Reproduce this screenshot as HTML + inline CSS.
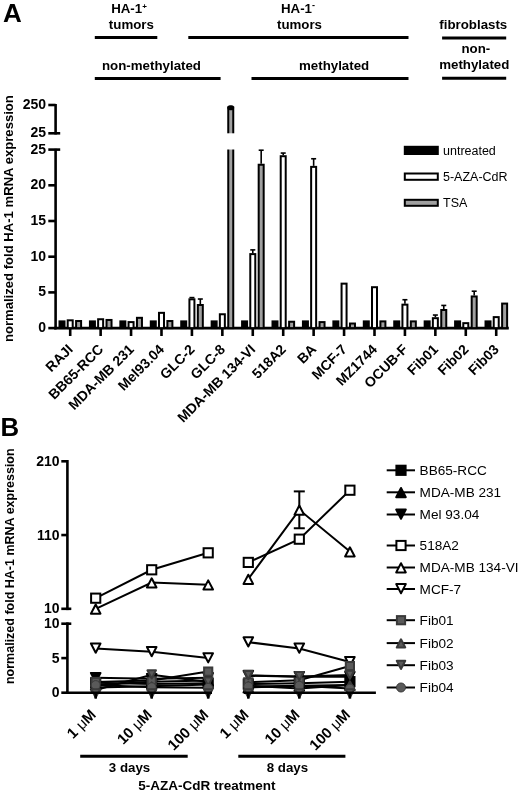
<!DOCTYPE html>
<html><head><meta charset="utf-8"><style>
html,body{margin:0;padding:0;background:#fff;}
svg{display:block;filter:grayscale(100%);}
text{font-family:"Liberation Sans",sans-serif;fill:#000;}
</style></head><body>
<svg width="520" height="793" viewBox="0 0 520 793" font-family="Liberation Sans, sans-serif">
<rect width="520" height="793" fill="#fff"/>
<text x="2.90" y="22.00" font-size="26" font-weight="bold" text-anchor="start" >A</text>
<text x="129.00" y="12.90" font-size="13.3" font-weight="bold" text-anchor="middle" >HA-1<tspan font-size="8" dy="-4.2">+</tspan></text>
<text x="131.40" y="29.00" font-size="13.3" font-weight="bold" text-anchor="middle" >tumors</text>
<text x="298.00" y="12.90" font-size="13.3" font-weight="bold" text-anchor="middle" >HA-1<tspan font-size="9" dy="-5">-</tspan></text>
<text x="299.50" y="29.00" font-size="13.3" font-weight="bold" text-anchor="middle" >tumors</text>
<text x="473.30" y="28.50" font-size="13.3" font-weight="bold" text-anchor="middle" >fibroblasts</text>
<text x="151.50" y="69.70" font-size="13.3" font-weight="bold" text-anchor="middle" >non-methylated</text>
<text x="334.10" y="69.70" font-size="13.3" font-weight="bold" text-anchor="middle" >methylated</text>
<text x="475.80" y="52.90" font-size="13.3" font-weight="bold" text-anchor="middle" >non-</text>
<text x="474.30" y="68.80" font-size="13.3" font-weight="bold" text-anchor="middle" >methylated</text>
<line x1="94.80" y1="37.50" x2="157.30" y2="37.50" stroke="#000" stroke-width="3"/>
<line x1="188.30" y1="37.50" x2="408.50" y2="37.50" stroke="#000" stroke-width="3"/>
<line x1="442.10" y1="38.00" x2="506.20" y2="38.00" stroke="#000" stroke-width="3"/>
<line x1="94.80" y1="78.60" x2="220.60" y2="78.60" stroke="#000" stroke-width="3"/>
<line x1="251.50" y1="78.60" x2="408.50" y2="78.60" stroke="#000" stroke-width="3"/>
<line x1="442.10" y1="78.20" x2="506.20" y2="78.20" stroke="#000" stroke-width="3"/>
<line x1="55.60" y1="104.00" x2="55.60" y2="134.50" stroke="#000" stroke-width="2.6"/>
<line x1="55.60" y1="148.80" x2="55.60" y2="329.40" stroke="#000" stroke-width="2.6"/>
<line x1="48.30" y1="105.00" x2="55.60" y2="105.00" stroke="#000" stroke-width="2.6"/>
<line x1="48.30" y1="133.30" x2="60.20" y2="133.30" stroke="#000" stroke-width="2.6"/>
<line x1="48.30" y1="149.60" x2="60.20" y2="149.60" stroke="#000" stroke-width="2.6"/>
<line x1="48.30" y1="185.30" x2="55.60" y2="185.30" stroke="#000" stroke-width="2.6"/>
<line x1="48.30" y1="221.00" x2="55.60" y2="221.00" stroke="#000" stroke-width="2.6"/>
<line x1="48.30" y1="256.70" x2="55.60" y2="256.70" stroke="#000" stroke-width="2.6"/>
<line x1="48.30" y1="292.40" x2="55.60" y2="292.40" stroke="#000" stroke-width="2.6"/>
<line x1="48.30" y1="328.10" x2="55.60" y2="328.10" stroke="#000" stroke-width="2.6"/>
<text x="46.00" y="108.90" font-size="14" font-weight="bold" text-anchor="end" >250</text>
<text x="46.00" y="137.20" font-size="14" font-weight="bold" text-anchor="end" >25</text>
<text x="46.00" y="153.50" font-size="14" font-weight="bold" text-anchor="end" >25</text>
<text x="46.00" y="189.20" font-size="14" font-weight="bold" text-anchor="end" >20</text>
<text x="46.00" y="224.90" font-size="14" font-weight="bold" text-anchor="end" >15</text>
<text x="46.00" y="260.60" font-size="14" font-weight="bold" text-anchor="end" >10</text>
<text x="46.00" y="296.30" font-size="14" font-weight="bold" text-anchor="end" >5</text>
<text x="46.00" y="332.00" font-size="14" font-weight="bold" text-anchor="end" >0</text>
<line x1="54.30" y1="328.10" x2="508.80" y2="328.10" stroke="#000" stroke-width="2.8"/>
<line x1="70.20" y1="328.10" x2="70.20" y2="336.00" stroke="#000" stroke-width="2.6"/>
<line x1="100.63" y1="328.10" x2="100.63" y2="336.00" stroke="#000" stroke-width="2.6"/>
<line x1="131.06" y1="328.10" x2="131.06" y2="336.00" stroke="#000" stroke-width="2.6"/>
<line x1="161.49" y1="328.10" x2="161.49" y2="336.00" stroke="#000" stroke-width="2.6"/>
<line x1="191.92" y1="328.10" x2="191.92" y2="336.00" stroke="#000" stroke-width="2.6"/>
<line x1="222.35" y1="328.10" x2="222.35" y2="336.00" stroke="#000" stroke-width="2.6"/>
<line x1="252.78" y1="328.10" x2="252.78" y2="336.00" stroke="#000" stroke-width="2.6"/>
<line x1="283.21" y1="328.10" x2="283.21" y2="336.00" stroke="#000" stroke-width="2.6"/>
<line x1="313.64" y1="328.10" x2="313.64" y2="336.00" stroke="#000" stroke-width="2.6"/>
<line x1="344.07" y1="328.10" x2="344.07" y2="336.00" stroke="#000" stroke-width="2.6"/>
<line x1="374.50" y1="328.10" x2="374.50" y2="336.00" stroke="#000" stroke-width="2.6"/>
<line x1="404.93" y1="328.10" x2="404.93" y2="336.00" stroke="#000" stroke-width="2.6"/>
<line x1="435.36" y1="328.10" x2="435.36" y2="336.00" stroke="#000" stroke-width="2.6"/>
<line x1="465.79" y1="328.10" x2="465.79" y2="336.00" stroke="#000" stroke-width="2.6"/>
<line x1="496.22" y1="328.10" x2="496.22" y2="336.00" stroke="#000" stroke-width="2.6"/>
<text transform="translate(73.80,350.2) rotate(-45)" font-size="14" font-weight="bold" text-anchor="end">RAJI</text>
<text transform="translate(104.23,350.2) rotate(-45)" font-size="14" font-weight="bold" text-anchor="end">BB65-RCC</text>
<text transform="translate(134.66,350.2) rotate(-45)" font-size="14" font-weight="bold" text-anchor="end">MDA-MB 231</text>
<text transform="translate(165.09,350.2) rotate(-45)" font-size="14" font-weight="bold" text-anchor="end">Mel93.04</text>
<text transform="translate(195.52,350.2) rotate(-45)" font-size="14" font-weight="bold" text-anchor="end">GLC-2</text>
<text transform="translate(225.95,350.2) rotate(-45)" font-size="14" font-weight="bold" text-anchor="end">GLC-8</text>
<text transform="translate(256.38,350.2) rotate(-45)" font-size="14" font-weight="bold" text-anchor="end">MDA-MB 134-VI</text>
<text transform="translate(286.81,350.2) rotate(-45)" font-size="14" font-weight="bold" text-anchor="end">518A2</text>
<text transform="translate(317.24,350.2) rotate(-45)" font-size="14" font-weight="bold" text-anchor="end">BA</text>
<text transform="translate(347.67,350.2) rotate(-45)" font-size="14" font-weight="bold" text-anchor="end">MCF-7</text>
<text transform="translate(378.10,350.2) rotate(-45)" font-size="14" font-weight="bold" text-anchor="end">MZ1744</text>
<text transform="translate(408.53,350.2) rotate(-45)" font-size="14" font-weight="bold" text-anchor="end">OCUB-F</text>
<text transform="translate(438.96,350.2) rotate(-45)" font-size="14" font-weight="bold" text-anchor="end">Fib01</text>
<text transform="translate(469.39,350.2) rotate(-45)" font-size="14" font-weight="bold" text-anchor="end">Fib02</text>
<text transform="translate(499.82,350.2) rotate(-45)" font-size="14" font-weight="bold" text-anchor="end">Fib03</text>
<rect x="59.50" y="321.38" width="5.00" height="6.72" fill="#000" stroke="#000" stroke-width="2.0"/>
<rect x="67.70" y="320.31" width="5.00" height="7.79" fill="#fff" stroke="#000" stroke-width="2.0"/>
<rect x="76.10" y="321.02" width="5.00" height="7.08" fill="#a0a0a0" stroke="#000" stroke-width="2.0"/>
<rect x="89.93" y="321.38" width="5.00" height="6.72" fill="#000" stroke="#000" stroke-width="2.0"/>
<rect x="98.13" y="319.24" width="5.00" height="8.86" fill="#fff" stroke="#000" stroke-width="2.0"/>
<rect x="106.53" y="319.96" width="5.00" height="8.14" fill="#a0a0a0" stroke="#000" stroke-width="2.0"/>
<rect x="120.36" y="321.38" width="5.00" height="6.72" fill="#000" stroke="#000" stroke-width="2.0"/>
<rect x="128.56" y="322.09" width="5.00" height="6.01" fill="#fff" stroke="#000" stroke-width="2.0"/>
<rect x="136.96" y="317.82" width="5.00" height="10.28" fill="#a0a0a0" stroke="#000" stroke-width="2.0"/>
<rect x="150.79" y="321.38" width="5.00" height="6.72" fill="#000" stroke="#000" stroke-width="2.0"/>
<rect x="158.99" y="312.84" width="5.00" height="15.26" fill="#fff" stroke="#000" stroke-width="2.0"/>
<rect x="167.39" y="321.02" width="5.00" height="7.08" fill="#a0a0a0" stroke="#000" stroke-width="2.0"/>
<rect x="181.22" y="321.38" width="5.00" height="6.72" fill="#000" stroke="#000" stroke-width="2.0"/>
<line x1="191.92" y1="297.60" x2="191.92" y2="298.31" stroke="#000" stroke-width="1.6"/>
<line x1="189.42" y1="297.60" x2="194.42" y2="297.60" stroke="#000" stroke-width="1.6"/>
<rect x="189.42" y="299.31" width="5.00" height="28.79" fill="#fff" stroke="#000" stroke-width="2.0"/>
<line x1="200.32" y1="299.02" x2="200.32" y2="304.00" stroke="#000" stroke-width="1.6"/>
<line x1="197.82" y1="299.02" x2="202.82" y2="299.02" stroke="#000" stroke-width="1.6"/>
<rect x="197.82" y="305.00" width="5.00" height="23.10" fill="#a0a0a0" stroke="#000" stroke-width="2.0"/>
<rect x="211.65" y="321.38" width="5.00" height="6.72" fill="#000" stroke="#000" stroke-width="2.0"/>
<rect x="219.85" y="314.26" width="5.00" height="13.84" fill="#fff" stroke="#000" stroke-width="2.0"/>
<rect x="242.08" y="321.38" width="5.00" height="6.72" fill="#000" stroke="#000" stroke-width="2.0"/>
<line x1="252.78" y1="249.89" x2="252.78" y2="253.10" stroke="#000" stroke-width="1.6"/>
<line x1="250.28" y1="249.89" x2="255.28" y2="249.89" stroke="#000" stroke-width="1.6"/>
<rect x="250.28" y="254.10" width="5.00" height="74.00" fill="#fff" stroke="#000" stroke-width="2.0"/>
<line x1="261.18" y1="150.21" x2="261.18" y2="163.74" stroke="#000" stroke-width="1.6"/>
<line x1="258.68" y1="150.21" x2="263.68" y2="150.21" stroke="#000" stroke-width="1.6"/>
<rect x="258.68" y="164.74" width="5.00" height="163.36" fill="#a0a0a0" stroke="#000" stroke-width="2.0"/>
<rect x="272.51" y="321.38" width="5.00" height="6.72" fill="#000" stroke="#000" stroke-width="2.0"/>
<line x1="283.21" y1="153.06" x2="283.21" y2="155.20" stroke="#000" stroke-width="1.6"/>
<line x1="280.71" y1="153.06" x2="285.71" y2="153.06" stroke="#000" stroke-width="1.6"/>
<rect x="280.71" y="156.20" width="5.00" height="171.90" fill="#fff" stroke="#000" stroke-width="2.0"/>
<rect x="289.11" y="321.74" width="5.00" height="6.36" fill="#a0a0a0" stroke="#000" stroke-width="2.0"/>
<rect x="302.94" y="321.38" width="5.00" height="6.72" fill="#000" stroke="#000" stroke-width="2.0"/>
<line x1="313.64" y1="158.76" x2="313.64" y2="165.88" stroke="#000" stroke-width="1.6"/>
<line x1="311.14" y1="158.76" x2="316.14" y2="158.76" stroke="#000" stroke-width="1.6"/>
<rect x="311.14" y="166.88" width="5.00" height="161.22" fill="#fff" stroke="#000" stroke-width="2.0"/>
<rect x="319.54" y="322.09" width="5.00" height="6.01" fill="#a0a0a0" stroke="#000" stroke-width="2.0"/>
<rect x="333.37" y="321.38" width="5.00" height="6.72" fill="#000" stroke="#000" stroke-width="2.0"/>
<rect x="341.57" y="283.64" width="5.00" height="44.46" fill="#fff" stroke="#000" stroke-width="2.0"/>
<rect x="349.97" y="323.52" width="5.00" height="4.58" fill="#a0a0a0" stroke="#000" stroke-width="2.0"/>
<rect x="363.80" y="321.38" width="5.00" height="6.72" fill="#000" stroke="#000" stroke-width="2.0"/>
<rect x="372.00" y="287.20" width="5.00" height="40.90" fill="#fff" stroke="#000" stroke-width="2.0"/>
<rect x="380.40" y="321.38" width="5.00" height="6.72" fill="#a0a0a0" stroke="#000" stroke-width="2.0"/>
<rect x="394.23" y="321.38" width="5.00" height="6.72" fill="#000" stroke="#000" stroke-width="2.0"/>
<line x1="404.93" y1="299.73" x2="404.93" y2="303.65" stroke="#000" stroke-width="1.6"/>
<line x1="402.43" y1="299.73" x2="407.43" y2="299.73" stroke="#000" stroke-width="1.6"/>
<rect x="402.43" y="304.65" width="5.00" height="23.45" fill="#fff" stroke="#000" stroke-width="2.0"/>
<rect x="410.83" y="321.38" width="5.00" height="6.72" fill="#a0a0a0" stroke="#000" stroke-width="2.0"/>
<rect x="424.66" y="321.38" width="5.00" height="6.72" fill="#000" stroke="#000" stroke-width="2.0"/>
<line x1="435.36" y1="315.04" x2="435.36" y2="317.18" stroke="#000" stroke-width="1.6"/>
<line x1="432.86" y1="315.04" x2="437.86" y2="315.04" stroke="#000" stroke-width="1.6"/>
<rect x="432.86" y="318.18" width="5.00" height="9.92" fill="#fff" stroke="#000" stroke-width="2.0"/>
<line x1="443.76" y1="305.43" x2="443.76" y2="308.99" stroke="#000" stroke-width="1.6"/>
<line x1="441.26" y1="305.43" x2="446.26" y2="305.43" stroke="#000" stroke-width="1.6"/>
<rect x="441.26" y="309.99" width="5.00" height="18.11" fill="#a0a0a0" stroke="#000" stroke-width="2.0"/>
<rect x="455.09" y="321.38" width="5.00" height="6.72" fill="#000" stroke="#000" stroke-width="2.0"/>
<rect x="463.29" y="323.16" width="5.00" height="4.94" fill="#fff" stroke="#000" stroke-width="2.0"/>
<line x1="474.19" y1="291.19" x2="474.19" y2="295.46" stroke="#000" stroke-width="1.6"/>
<line x1="471.69" y1="291.19" x2="476.69" y2="291.19" stroke="#000" stroke-width="1.6"/>
<rect x="471.69" y="296.46" width="5.00" height="31.64" fill="#a0a0a0" stroke="#000" stroke-width="2.0"/>
<rect x="485.52" y="321.38" width="5.00" height="6.72" fill="#000" stroke="#000" stroke-width="2.0"/>
<rect x="493.72" y="317.11" width="5.00" height="10.99" fill="#fff" stroke="#000" stroke-width="2.0"/>
<rect x="502.12" y="303.58" width="5.00" height="24.52" fill="#a0a0a0" stroke="#000" stroke-width="2.0"/>
<rect x="228.25" y="107.5" width="5.00" height="220.60" fill="#a0a0a0" stroke="#000" stroke-width="2.0"/>
<rect x="227.35" y="105.3" width="6.8" height="5" rx="2.6" fill="#000"/>
<rect x="224.75000000000003" y="133.3" width="12" height="16.2" fill="#fff"/>
<rect x="404.8" y="146.80" width="33" height="7.20" fill="#000" stroke="#000" stroke-width="2"/>
<text x="443.00" y="155.20" font-size="12.5" font-weight="normal" text-anchor="start" >untreated</text>
<rect x="404.8" y="173.50" width="33" height="6.30" fill="#fff" stroke="#000" stroke-width="2"/>
<text x="443.00" y="181.20" font-size="12.5" font-weight="normal" text-anchor="start" >5-AZA-CdR</text>
<rect x="404.8" y="199.80" width="33" height="6.00" fill="#a0a0a0" stroke="#000" stroke-width="2"/>
<text x="443.00" y="206.80" font-size="12.5" font-weight="normal" text-anchor="start" >TSA</text>
<text transform="translate(12.5,218.6) rotate(-90)" font-size="13.1" font-weight="bold" text-anchor="middle">normalized fold HA-1 mRNA expression</text>
<text x="0.60" y="436.10" font-size="25.8" font-weight="bold" text-anchor="start" >B</text>
<text transform="translate(96.90,715.6) rotate(-45)" font-size="15" font-weight="bold" text-anchor="end">1 <tspan font-weight="normal">&#956;</tspan>M</text>
<text transform="translate(152.90,715.6) rotate(-45)" font-size="15" font-weight="bold" text-anchor="end">10 <tspan font-weight="normal">&#956;</tspan>M</text>
<text transform="translate(209.40,715.6) rotate(-45)" font-size="15" font-weight="bold" text-anchor="end">100 <tspan font-weight="normal">&#956;</tspan>M</text>
<text transform="translate(249.50,715.6) rotate(-45)" font-size="15" font-weight="bold" text-anchor="end">1 <tspan font-weight="normal">&#956;</tspan>M</text>
<text transform="translate(300.50,715.6) rotate(-45)" font-size="15" font-weight="bold" text-anchor="end">10 <tspan font-weight="normal">&#956;</tspan>M</text>
<text transform="translate(351.10,715.6) rotate(-45)" font-size="15" font-weight="bold" text-anchor="end">100 <tspan font-weight="normal">&#956;</tspan>M</text>
<line x1="80.20" y1="756.30" x2="187.70" y2="756.30" stroke="#000" stroke-width="3"/>
<line x1="238.30" y1="756.30" x2="345.40" y2="756.30" stroke="#000" stroke-width="3"/>
<text x="129.50" y="771.70" font-size="13.3" font-weight="bold" text-anchor="middle" >3 days</text>
<text x="287.40" y="771.70" font-size="13.3" font-weight="bold" text-anchor="middle" >8 days</text>
<text x="207.00" y="789.80" font-size="13.5" font-weight="bold" text-anchor="middle" >5-AZA-CdR treatment</text>
<text transform="translate(13.6,566.2) rotate(-90)" font-size="12.5" font-weight="bold" text-anchor="middle">normalized fold HA-1 mRNA expression</text>
<polyline points="95.70,682.80 151.70,684.05 208.20,683.36" fill="none" stroke="#000" stroke-width="2"/>
<polyline points="248.30,684.05 299.30,683.36 349.90,681.63" fill="none" stroke="#000" stroke-width="2"/>
<rect x="91.10" y="678.20" width="9.20" height="9.20" fill="#000" stroke="#000" stroke-width="2"/>
<rect x="147.10" y="679.45" width="9.20" height="9.20" fill="#000" stroke="#000" stroke-width="2"/>
<rect x="203.60" y="678.76" width="9.20" height="9.20" fill="#000" stroke="#000" stroke-width="2"/>
<rect x="243.70" y="679.45" width="9.20" height="9.20" fill="#000" stroke="#000" stroke-width="2"/>
<rect x="294.70" y="678.76" width="9.20" height="9.20" fill="#000" stroke="#000" stroke-width="2"/>
<rect x="345.30" y="677.03" width="9.20" height="9.20" fill="#000" stroke="#000" stroke-width="2"/>
<polyline points="95.70,684.88 151.70,681.63 208.20,680.59" fill="none" stroke="#000" stroke-width="2"/>
<polyline points="248.30,687.51 299.30,685.78 349.90,685.09" fill="none" stroke="#000" stroke-width="2"/>
<polygon points="95.70,680.58 100.50,689.78 90.90,689.78" fill="#000" stroke="#000" stroke-width="2" stroke-linejoin="round"/>
<polygon points="151.70,677.33 156.50,686.53 146.90,686.53" fill="#000" stroke="#000" stroke-width="2" stroke-linejoin="round"/>
<polygon points="208.20,676.29 213.00,685.49 203.40,685.49" fill="#000" stroke="#000" stroke-width="2" stroke-linejoin="round"/>
<polygon points="248.30,683.21 253.10,692.41 243.50,692.41" fill="#000" stroke="#000" stroke-width="2" stroke-linejoin="round"/>
<polygon points="299.30,681.48 304.10,690.68 294.50,690.68" fill="#000" stroke="#000" stroke-width="2" stroke-linejoin="round"/>
<polygon points="349.90,680.79 354.70,689.99 345.10,689.99" fill="#000" stroke="#000" stroke-width="2" stroke-linejoin="round"/>
<polyline points="95.70,677.82 151.70,678.86 208.20,677.82" fill="none" stroke="#000" stroke-width="2"/>
<polyline points="248.30,675.75 299.30,676.78 349.90,676.78" fill="none" stroke="#000" stroke-width="2"/>
<polygon points="90.90,672.92 100.50,672.92 95.70,682.12" fill="#000" stroke="#000" stroke-width="2" stroke-linejoin="round"/>
<polygon points="146.90,673.96 156.50,673.96 151.70,683.16" fill="#000" stroke="#000" stroke-width="2" stroke-linejoin="round"/>
<polygon points="203.40,672.92 213.00,672.92 208.20,682.12" fill="#000" stroke="#000" stroke-width="2" stroke-linejoin="round"/>
<polygon points="243.50,670.85 253.10,670.85 248.30,680.05" fill="#000" stroke="#000" stroke-width="2" stroke-linejoin="round"/>
<polygon points="294.50,671.88 304.10,671.88 299.30,681.08" fill="#000" stroke="#000" stroke-width="2" stroke-linejoin="round"/>
<polygon points="345.10,671.88 354.70,671.88 349.90,681.08" fill="#000" stroke="#000" stroke-width="2" stroke-linejoin="round"/>
<line x1="299.30" y1="491.39" x2="299.30" y2="528.26" stroke="#000" stroke-width="2"/>
<line x1="293.80" y1="491.39" x2="304.80" y2="491.39" stroke="#000" stroke-width="2"/>
<line x1="293.80" y1="528.26" x2="304.80" y2="528.26" stroke="#000" stroke-width="2"/>
<polyline points="95.70,598.18 151.70,569.79 208.20,552.82" fill="none" stroke="#000" stroke-width="2"/>
<polyline points="248.30,562.41 299.30,539.18 349.90,490.21" fill="none" stroke="#000" stroke-width="2"/>
<rect x="91.10" y="593.58" width="9.20" height="9.20" fill="#fff" stroke="#000" stroke-width="2"/>
<rect x="147.10" y="565.19" width="9.20" height="9.20" fill="#fff" stroke="#000" stroke-width="2"/>
<rect x="203.60" y="548.22" width="9.20" height="9.20" fill="#fff" stroke="#000" stroke-width="2"/>
<rect x="243.70" y="557.81" width="9.20" height="9.20" fill="#fff" stroke="#000" stroke-width="2"/>
<rect x="294.70" y="534.58" width="9.20" height="9.20" fill="#fff" stroke="#000" stroke-width="2"/>
<rect x="345.30" y="485.61" width="9.20" height="9.20" fill="#fff" stroke="#000" stroke-width="2"/>
<polyline points="95.70,608.80 151.70,582.62 208.20,584.68" fill="none" stroke="#000" stroke-width="2"/>
<polyline points="248.30,579.00 299.30,509.83 349.90,551.57" fill="none" stroke="#000" stroke-width="2"/>
<polygon points="95.70,604.50 100.50,613.70 90.90,613.70" fill="#fff" stroke="#000" stroke-width="2" stroke-linejoin="round"/>
<polygon points="151.70,578.32 156.50,587.52 146.90,587.52" fill="#fff" stroke="#000" stroke-width="2" stroke-linejoin="round"/>
<polygon points="208.20,580.38 213.00,589.58 203.40,589.58" fill="#fff" stroke="#000" stroke-width="2" stroke-linejoin="round"/>
<polygon points="248.30,574.71 253.10,583.90 243.50,583.90" fill="#fff" stroke="#000" stroke-width="2" stroke-linejoin="round"/>
<polygon points="299.30,505.53 304.10,514.73 294.50,514.73" fill="#fff" stroke="#000" stroke-width="2" stroke-linejoin="round"/>
<polygon points="349.90,547.27 354.70,556.47 345.10,556.47" fill="#fff" stroke="#000" stroke-width="2" stroke-linejoin="round"/>
<polyline points="95.70,648.41 151.70,651.87 208.20,658.10" fill="none" stroke="#000" stroke-width="2"/>
<polyline points="248.30,642.18 299.30,648.41 349.90,661.91" fill="none" stroke="#000" stroke-width="2"/>
<polygon points="90.90,643.51 100.50,643.51 95.70,652.71" fill="#fff" stroke="#000" stroke-width="2" stroke-linejoin="round"/>
<polygon points="146.90,646.97 156.50,646.97 151.70,656.17" fill="#fff" stroke="#000" stroke-width="2" stroke-linejoin="round"/>
<polygon points="203.40,653.20 213.00,653.20 208.20,662.40" fill="#fff" stroke="#000" stroke-width="2" stroke-linejoin="round"/>
<polygon points="243.50,637.28 253.10,637.28 248.30,646.48" fill="#fff" stroke="#000" stroke-width="2" stroke-linejoin="round"/>
<polygon points="294.50,643.51 304.10,643.51 299.30,652.71" fill="#fff" stroke="#000" stroke-width="2" stroke-linejoin="round"/>
<polygon points="345.10,657.01 354.70,657.01 349.90,666.21" fill="#fff" stroke="#000" stroke-width="2" stroke-linejoin="round"/>
<polyline points="95.70,681.97 151.70,680.59 208.20,671.59" fill="none" stroke="#000" stroke-width="2"/>
<polyline points="248.30,682.32 299.30,680.24 349.90,666.06" fill="none" stroke="#000" stroke-width="2"/>
<rect x="91.60" y="677.87" width="8.20" height="8.20" fill="#5a5a5a" stroke="#3a3a3a" stroke-width="2"/>
<rect x="147.60" y="676.49" width="8.20" height="8.20" fill="#5a5a5a" stroke="#3a3a3a" stroke-width="2"/>
<rect x="204.10" y="667.49" width="8.20" height="8.20" fill="#5a5a5a" stroke="#3a3a3a" stroke-width="2"/>
<rect x="244.20" y="678.22" width="8.20" height="8.20" fill="#5a5a5a" stroke="#3a3a3a" stroke-width="2"/>
<rect x="295.20" y="676.14" width="8.20" height="8.20" fill="#5a5a5a" stroke="#3a3a3a" stroke-width="2"/>
<rect x="345.80" y="661.96" width="8.20" height="8.20" fill="#5a5a5a" stroke="#3a3a3a" stroke-width="2"/>
<polyline points="95.70,687.58 151.70,686.13 208.20,684.40" fill="none" stroke="#000" stroke-width="2"/>
<polyline points="248.30,685.78 299.30,688.55 349.90,685.09" fill="none" stroke="#000" stroke-width="2"/>
<polygon points="95.70,683.81 99.96,691.95 91.44,691.95" fill="#5a5a5a" stroke="#3a3a3a" stroke-width="2" stroke-linejoin="round"/>
<polygon points="151.70,682.35 155.96,690.50 147.44,690.50" fill="#5a5a5a" stroke="#3a3a3a" stroke-width="2" stroke-linejoin="round"/>
<polygon points="208.20,680.62 212.46,688.77 203.94,688.77" fill="#5a5a5a" stroke="#3a3a3a" stroke-width="2" stroke-linejoin="round"/>
<polygon points="248.30,682.01 252.56,690.15 244.04,690.15" fill="#5a5a5a" stroke="#3a3a3a" stroke-width="2" stroke-linejoin="round"/>
<polygon points="299.30,684.77 303.56,692.92 295.04,692.92" fill="#5a5a5a" stroke="#3a3a3a" stroke-width="2" stroke-linejoin="round"/>
<polygon points="349.90,681.31 354.16,689.46 345.64,689.46" fill="#5a5a5a" stroke="#3a3a3a" stroke-width="2" stroke-linejoin="round"/>
<polyline points="95.70,689.93 151.70,674.71 208.20,681.97" fill="none" stroke="#000" stroke-width="2"/>
<polyline points="248.30,675.40 299.30,676.44 349.90,675.05" fill="none" stroke="#000" stroke-width="2"/>
<polygon points="91.44,685.56 99.96,685.56 95.70,693.71" fill="#5a5a5a" stroke="#3a3a3a" stroke-width="2" stroke-linejoin="round"/>
<polygon points="147.44,670.33 155.96,670.33 151.70,678.48" fill="#5a5a5a" stroke="#3a3a3a" stroke-width="2" stroke-linejoin="round"/>
<polygon points="203.94,677.60 212.46,677.60 208.20,685.75" fill="#5a5a5a" stroke="#3a3a3a" stroke-width="2" stroke-linejoin="round"/>
<polygon points="244.04,671.03 252.56,671.03 248.30,679.17" fill="#5a5a5a" stroke="#3a3a3a" stroke-width="2" stroke-linejoin="round"/>
<polygon points="295.04,672.06 303.56,672.06 299.30,680.21" fill="#5a5a5a" stroke="#3a3a3a" stroke-width="2" stroke-linejoin="round"/>
<polygon points="345.64,670.68 354.16,670.68 349.90,678.83" fill="#5a5a5a" stroke="#3a3a3a" stroke-width="2" stroke-linejoin="round"/>
<polyline points="95.70,685.09 151.70,687.16 208.20,687.86" fill="none" stroke="#000" stroke-width="2"/>
<polyline points="248.30,686.47 299.30,685.78 349.90,688.55" fill="none" stroke="#000" stroke-width="2"/>
<circle cx="95.70" cy="685.09" r="4.50" fill="#5a5a5a" stroke="#3a3a3a" stroke-width="1"/>
<circle cx="151.70" cy="687.16" r="4.50" fill="#5a5a5a" stroke="#3a3a3a" stroke-width="1"/>
<circle cx="208.20" cy="687.86" r="4.50" fill="#5a5a5a" stroke="#3a3a3a" stroke-width="1"/>
<circle cx="248.30" cy="686.47" r="4.50" fill="#5a5a5a" stroke="#3a3a3a" stroke-width="1"/>
<circle cx="299.30" cy="685.78" r="4.50" fill="#5a5a5a" stroke="#3a3a3a" stroke-width="1"/>
<circle cx="349.90" cy="688.55" r="4.50" fill="#5a5a5a" stroke="#3a3a3a" stroke-width="1"/>
<polygon points="91.44,689.36 99.96,689.36 95.70,697.51" fill="#5a5a5a" stroke="#3a3a3a" stroke-width="2" stroke-linejoin="round"/>
<polygon points="147.44,689.36 155.96,689.36 151.70,697.51" fill="#5a5a5a" stroke="#3a3a3a" stroke-width="2" stroke-linejoin="round"/>
<polygon points="203.94,689.36 212.46,689.36 208.20,697.51" fill="#5a5a5a" stroke="#3a3a3a" stroke-width="2" stroke-linejoin="round"/>
<polygon points="244.04,689.36 252.56,689.36 248.30,697.51" fill="#5a5a5a" stroke="#3a3a3a" stroke-width="2" stroke-linejoin="round"/>
<polygon points="295.04,689.36 303.56,689.36 299.30,697.51" fill="#5a5a5a" stroke="#3a3a3a" stroke-width="2" stroke-linejoin="round"/>
<polygon points="345.64,689.36 354.16,689.36 349.90,697.51" fill="#5a5a5a" stroke="#3a3a3a" stroke-width="2" stroke-linejoin="round"/>
<line x1="67.40" y1="460.00" x2="67.40" y2="610.10" stroke="#000" stroke-width="2.6"/>
<line x1="67.40" y1="622.40" x2="67.40" y2="694.00" stroke="#000" stroke-width="2.6"/>
<line x1="61.30" y1="461.30" x2="67.40" y2="461.30" stroke="#000" stroke-width="2.6"/>
<line x1="61.30" y1="535.05" x2="67.40" y2="535.05" stroke="#000" stroke-width="2.6"/>
<line x1="61.30" y1="608.80" x2="71.30" y2="608.80" stroke="#000" stroke-width="2.6"/>
<line x1="61.30" y1="623.70" x2="71.30" y2="623.70" stroke="#000" stroke-width="2.6"/>
<line x1="61.30" y1="658.10" x2="67.40" y2="658.10" stroke="#000" stroke-width="2.6"/>
<line x1="61.30" y1="692.70" x2="67.40" y2="692.70" stroke="#000" stroke-width="2.6"/>
<text x="59.60" y="465.90" font-size="14" font-weight="bold" text-anchor="end" >210</text>
<text x="59.60" y="539.65" font-size="14" font-weight="bold" text-anchor="end" >110</text>
<text x="59.60" y="613.40" font-size="14" font-weight="bold" text-anchor="end" >10</text>
<text x="59.60" y="628.30" font-size="14" font-weight="bold" text-anchor="end" >10</text>
<text x="59.60" y="662.70" font-size="14" font-weight="bold" text-anchor="end" >5</text>
<text x="59.60" y="697.30" font-size="14" font-weight="bold" text-anchor="end" >0</text>
<line x1="66.10" y1="692.70" x2="212.00" y2="692.70" stroke="#000" stroke-width="2.6"/>
<line x1="244.00" y1="692.70" x2="375.90" y2="692.70" stroke="#000" stroke-width="2.6"/>
<line x1="95.70" y1="692.70" x2="95.70" y2="698.60" stroke="#000" stroke-width="2.6"/>
<line x1="151.70" y1="692.70" x2="151.70" y2="698.60" stroke="#000" stroke-width="2.6"/>
<line x1="208.20" y1="692.70" x2="208.20" y2="698.60" stroke="#000" stroke-width="2.6"/>
<line x1="248.30" y1="692.70" x2="248.30" y2="698.60" stroke="#000" stroke-width="2.6"/>
<line x1="299.30" y1="692.70" x2="299.30" y2="698.60" stroke="#000" stroke-width="2.6"/>
<line x1="349.90" y1="692.70" x2="349.90" y2="698.60" stroke="#000" stroke-width="2.6"/>
<line x1="386.70" y1="470.30" x2="415.00" y2="470.30" stroke="#000" stroke-width="2"/>
<rect x="396.40" y="465.70" width="9.20" height="9.20" fill="#000" stroke="#000" stroke-width="2"/>
<text x="419.60" y="475.10" font-size="13.6" font-weight="normal" text-anchor="start" >BB65-RCC</text>
<line x1="386.70" y1="492.30" x2="415.00" y2="492.30" stroke="#000" stroke-width="2"/>
<polygon points="401.00,488.00 405.80,497.20 396.20,497.20" fill="#000" stroke="#000" stroke-width="2" stroke-linejoin="round"/>
<text x="419.60" y="497.10" font-size="13.6" font-weight="normal" text-anchor="start" >MDA-MB 231</text>
<line x1="386.70" y1="514.50" x2="415.00" y2="514.50" stroke="#000" stroke-width="2"/>
<polygon points="396.20,509.60 405.80,509.60 401.00,518.80" fill="#000" stroke="#000" stroke-width="2" stroke-linejoin="round"/>
<text x="419.60" y="519.30" font-size="13.6" font-weight="normal" text-anchor="start" >Mel 93.04</text>
<line x1="386.70" y1="545.50" x2="415.00" y2="545.50" stroke="#000" stroke-width="2"/>
<rect x="396.40" y="540.90" width="9.20" height="9.20" fill="#fff" stroke="#000" stroke-width="2"/>
<text x="419.60" y="550.30" font-size="13.6" font-weight="normal" text-anchor="start" >518A2</text>
<line x1="386.70" y1="567.50" x2="415.00" y2="567.50" stroke="#000" stroke-width="2"/>
<polygon points="401.00,563.20 405.80,572.40 396.20,572.40" fill="#fff" stroke="#000" stroke-width="2" stroke-linejoin="round"/>
<text x="419.60" y="572.30" font-size="13.6" font-weight="normal" text-anchor="start" >MDA-MB 134-VI</text>
<line x1="386.70" y1="589.00" x2="415.00" y2="589.00" stroke="#000" stroke-width="2"/>
<polygon points="396.20,584.10 405.80,584.10 401.00,593.30" fill="#fff" stroke="#000" stroke-width="2" stroke-linejoin="round"/>
<text x="419.60" y="593.80" font-size="13.6" font-weight="normal" text-anchor="start" >MCF-7</text>
<line x1="386.70" y1="620.20" x2="415.00" y2="620.20" stroke="#000" stroke-width="2"/>
<rect x="396.90" y="616.10" width="8.20" height="8.20" fill="#5a5a5a" stroke="#3a3a3a" stroke-width="2"/>
<text x="419.60" y="625.00" font-size="13.6" font-weight="normal" text-anchor="start" >Fib01</text>
<line x1="386.70" y1="643.10" x2="415.00" y2="643.10" stroke="#000" stroke-width="2"/>
<polygon points="401.00,639.33 405.26,647.47 396.74,647.47" fill="#5a5a5a" stroke="#3a3a3a" stroke-width="2" stroke-linejoin="round"/>
<text x="419.60" y="647.90" font-size="13.6" font-weight="normal" text-anchor="start" >Fib02</text>
<line x1="386.70" y1="665.20" x2="415.00" y2="665.20" stroke="#000" stroke-width="2"/>
<polygon points="396.74,660.83 405.26,660.83 401.00,668.97" fill="#5a5a5a" stroke="#3a3a3a" stroke-width="2" stroke-linejoin="round"/>
<text x="419.60" y="670.00" font-size="13.6" font-weight="normal" text-anchor="start" >Fib03</text>
<line x1="386.70" y1="687.50" x2="415.00" y2="687.50" stroke="#000" stroke-width="2"/>
<circle cx="401.00" cy="687.50" r="4.50" fill="#5a5a5a" stroke="#3a3a3a" stroke-width="1"/>
<text x="419.60" y="692.30" font-size="13.6" font-weight="normal" text-anchor="start" >Fib04</text>
</svg>
</body></html>
